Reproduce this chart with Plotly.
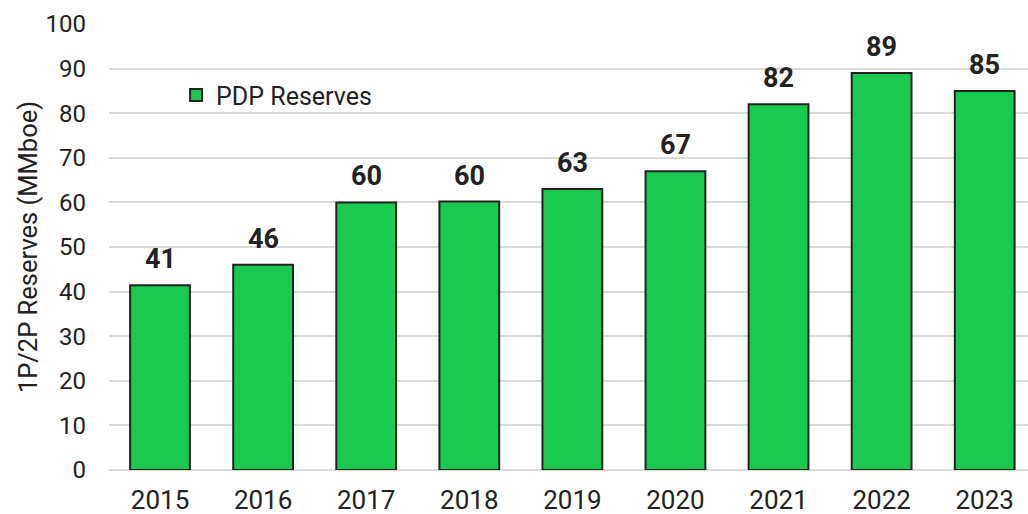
import plotly.graph_objects as go

years = ["2015", "2016", "2017", "2018", "2019", "2020", "2021", "2022", "2023"]
pdp_reserves = [41.4, 46, 60, 60.2, 63, 67, 82, 89, 85]
labels = ["41", "46", "60", "60", "63", "67", "82", "89", "85"]

fig = go.Figure()
fig.add_trace(go.Bar(
    x=years, y=pdp_reserves, name="PDP Reserves",
    marker=dict(color="#1ac94f", line=dict(color="#222222", width=2)),
    width=0.58,
))
for i, (v, lab) in enumerate(zip(pdp_reserves, labels)):
    fig.add_annotation(x=i, y=v, xref="x", yref="y", text="<b>" + lab + "</b>",
                       showarrow=False, yanchor="bottom", yshift=8,
                       font=dict(family="Roboto", size=27, color="#222222"))

fig.update_layout(
    width=1028, height=514,
    margin=dict(l=109, r=0, t=24, b=44),
    paper_bgcolor="white", plot_bgcolor="white",
    font=dict(family="Roboto", size=25, color="#222222"),
    showlegend=True,
    legend=dict(x=0.073, y=0.84, xanchor="left", yanchor="middle",
                font=dict(size=25, color="#222222"), bgcolor="rgba(0,0,0,0)",
                itemwidth=30),
    xaxis=dict(type="category", range=[-0.495, 8.42], showgrid=False,
               ticks="", tickfont=dict(size=26), showline=False,
               ticklabelstandoff=12, automargin=False),
    yaxis=dict(range=[0, 100], dtick=10, showgrid=True, gridcolor="#d9d9d9",
               gridwidth=1.5, zeroline=True, zerolinecolor="#d9d9d9", zerolinewidth=1.5,
               tickfont=dict(size=24), ticklabelstandoff=22, automargin=False,
               title=dict(text="1P/2P Reserves (MMboe)", font=dict(size=25.5), standoff=0)),
)
fig.write_html("out.html", config={"displayModeBar": False},
               post_script="document.body.style.margin='0';")
